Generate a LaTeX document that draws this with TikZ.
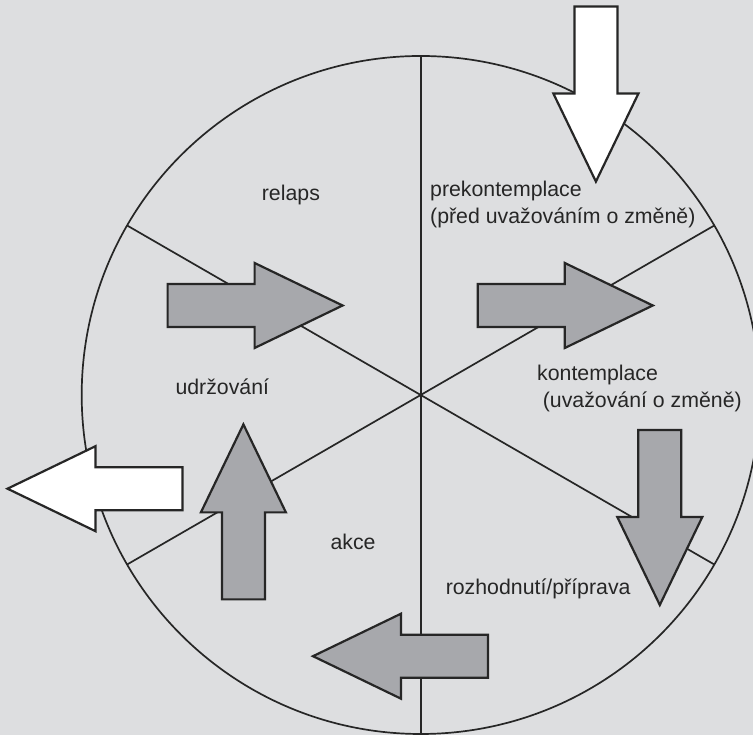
\documentclass[tikz,border=0pt]{standalone}
\usepackage{fontspec}
\setmainfont{Liberation Sans}
\usetikzlibrary{positioning}
\definecolor{bggray}{RGB}{221,222,224}
\definecolor{arrowgray}{RGB}{167,168,172}

\begin{document}
\begin{tikzpicture}[x=1pt, y=1pt, font=\fontsize{21.3}{27}\selectfont,
		stage/.style={anchor=base west, inner sep=0pt, align=left, text=black!85},
		barrow/.pic={\path[pic actions] (0,-21.5) -- (87,-21.5) -- (87,-42.5) -- (175,0)
			-- (87,42.5) -- (87,21.5) -- (0,21.5) -- cycle;},
		grayarrow/.style={draw=black!85, fill=arrowgray, line width=2.2pt, miter limit=20},
		whitearrow/.style={draw=black!85, fill=white, line width=2.2pt, miter limit=20}]
	\useasboundingbox (0,0) rectangle (753,735);
	\fill[bggray] (0,0) rectangle (753,735);
	\clip (0,0) rectangle (753,735);
	\coordinate (c) at (420.7,340);
	% circle and the three diameters
	\draw[black!85, line width=1.7pt] (c) circle (339);
	\foreach \a in {30,90,150,210,270,330}
		\draw[black!85, line width=1.7pt] (c) -- +(\a:339);
	% arrows
	\pic[grayarrow] at (167.6,429.5) {barrow};
	\pic[grayarrow] at (477.8,429.5) {barrow};
	\pic[grayarrow, rotate=-90] at (659.8,305) {barrow};
	\pic[grayarrow, rotate=180] at (488,78.8) {barrow};
	\pic[grayarrow, rotate=90] at (243.4,135.6) {barrow};
	\pic[whitearrow, rotate=-90] at (595.9,728.4) {barrow};
	\pic[whitearrow, rotate=180] at (182.5,246.3) {barrow};
	% stages (base = last line)
	\node[stage] (relaps) at (261.7,534.5) {relaps};
	\node[stage] (prekont) at (430,511) {prekontemplace\\(před uvažováním o změně)};
	\node[stage] (kontemp) at (537,327.5) {kontemplace\\\hspace*{5.7pt}(uvažování o změně)};
	\node[stage] (udrz) at (175.3,340) {udržování};
	\node[stage] (akce) at (330.4,185.5) {akce};
	\node[stage] (priprava) at (445.6,140.5) {rozhodnutí/příprava};
\end{tikzpicture}
\end{document}
